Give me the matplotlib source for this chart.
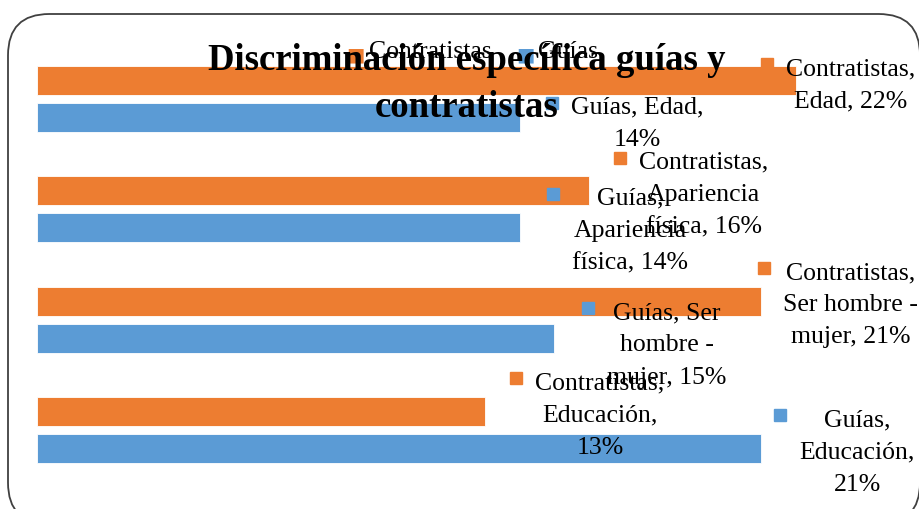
import matplotlib.pyplot as plt
import matplotlib.transforms as mtransforms
from matplotlib.patches import FancyBboxPatch

# data
categorias = ["Edad", "Apariencia física", "Ser hombre - mujer", "Educación"]
contratistas = [22, 16, 21, 13]
guias = [14, 14, 15, 21]

etiquetas_c = ["Contratistas,\nEdad, 22%",
               "Contratistas,\nApariencia\nfísica, 16%",
               "Contratistas,\nSer hombre -\nmujer, 21%",
               "Contratistas,\nEducación,\n13%"]
etiquetas_g = ["Guías, Edad,\n14%",
               "Guías,\nApariencia\nfísica, 14%",
               "Guías, Ser\nhombre -\nmujer, 15%",
               "Guías,\nEducación,\n21%"]

# label offsets from bar end (pixels: left of text block, first line centre)
off_c = [(-10, -13), (50, -30), (22, -30), (50, -30)]
off_g = [(51, -12), (52, -31), (53, -27), (38, -30)]

naranja = "#ED7D31"
azul = "#5B9BD5"
serif = ["Liberation Serif", "DejaVu Serif"]

fig = plt.figure(figsize=(9.2, 5.1), dpi=100)
ax = fig.add_axes([0, 0, 1, 1])
ax.set_xlim(-37 / 34.5, 883 / 34.5)
ax.set_ylim(410 / 110.3, -100 / 110.3)
ax.axis("off")

# rounded frame (bottom and right partly outside the picture)
fig.patches.append(FancyBboxPatch((8 / 920, -15 / 510), 912 / 920, 510 / 510,
                                  boxstyle="round,pad=0,rounding_size=0.045",
                                  transform=fig.transFigure, fill=False,
                                  edgecolor="#404040", linewidth=1.3,
                                  mutation_aspect=920 / 510))

ypos = list(range(len(categorias)))
h = 0.264
ax.barh([y - 0.168 for y in ypos], contratistas, height=h, color=naranja,
        edgecolor="white", linewidth=0.6)
ax.barh([y + 0.168 for y in ypos], guias, height=h, color=azul,
        edgecolor="white", linewidth=0.6)


def etiqueta(x, y, texto, dx, dy, color):
    tt = mtransforms.offset_copy(ax.transData, fig=fig, x=dx, y=-(dy - 10), units="dots")
    ax.text(x, y, texto, transform=tt, ha="left", va="top", multialignment="center",
            fontsize=18.5, family=serif, linespacing=1.6, zorder=4)
    tm = mtransforms.offset_copy(ax.transData, fig=fig, x=dx - 19, y=-(dy - 3), units="dots")
    ax.plot([x], [y], transform=tm, marker="s", markersize=9, color=color,
            linestyle="none", zorder=4, clip_on=False)


for i in ypos:
    etiqueta(contratistas[i], i - 0.168, etiquetas_c[i], off_c[i][0], off_c[i][1], naranja)
    etiqueta(guias[i], i + 0.168, etiquetas_g[i], off_g[i][0], off_g[i][1], azul)

# legend
fig.text(355 / 920, 1 - 55 / 510, "■", color=naranja, fontsize=14, ha="center", va="center")
fig.text(369 / 920, 1 - 52 / 510, "Contratistas", fontsize=18.5, family=serif, va="center")
fig.text(525 / 920, 1 - 55 / 510, "■", color=azul, fontsize=14, ha="center", va="center")
fig.text(538 / 920, 1 - 52 / 510, "Guías", fontsize=18.5, family=serif, va="center")

# title
fig.text(467 / 920, 1 - 84 / 510, "Discriminación específica guías y\ncontratistas",
         ha="center", va="center", fontsize=26.5, fontweight="bold", family=serif,
         linespacing=1.45, zorder=10)

fig.savefig("out.png", dpi=100)
